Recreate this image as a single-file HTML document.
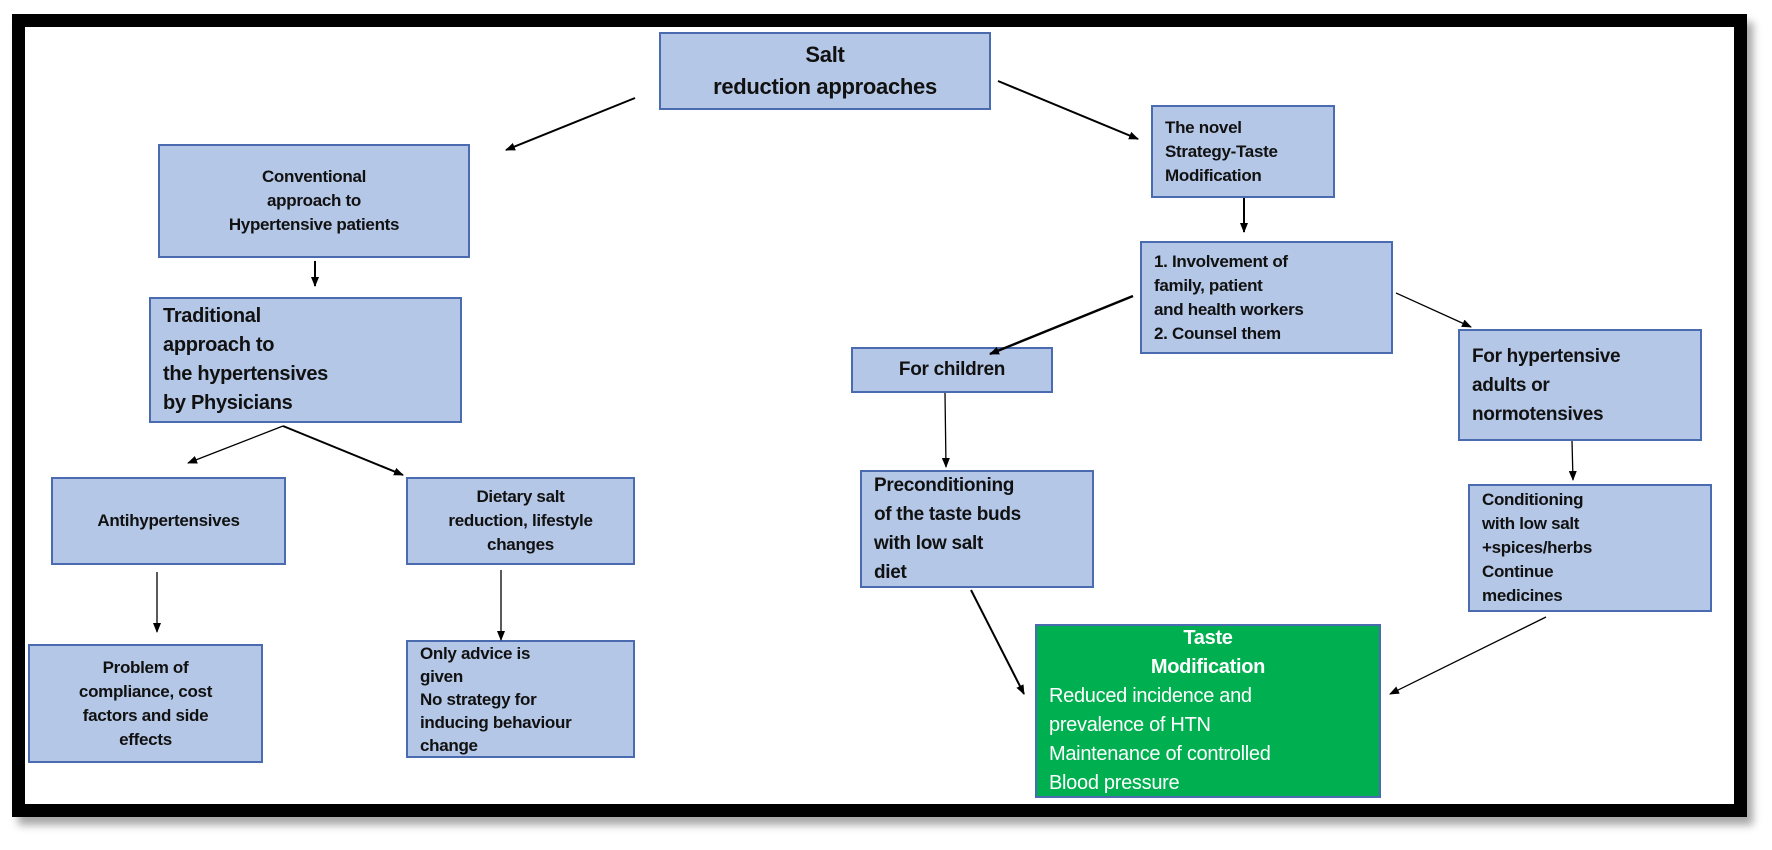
<!DOCTYPE html>
<html><head><meta charset="utf-8"><style>
body{margin:0;width:1772px;height:850px;background:#fff;position:relative;overflow:hidden;font-family:"Liberation Sans",sans-serif;}
.frame{position:absolute;left:12px;top:14px;width:1709px;height:777px;border:13px solid #000;box-shadow:6px 8px 8px rgba(0,0,0,0.35);}
.b{position:absolute;background:#b4c7e7;border:2px solid #4a6bb0;box-sizing:border-box;font-weight:bold;font-size:17px;line-height:24px;color:#111;display:flex;flex-direction:column;justify-content:center;padding:0 12px;letter-spacing:-0.3px;}
.c{text-align:center;align-items:center;}
svg{position:absolute;left:0;top:0;}
</style></head><body>
<div class="frame"></div>
<div class="b c" style="left:659px;top:32px;width:332px;height:78px;font-size:22px;line-height:32px;">Salt<br>reduction approaches</div>
<div class="b c" style="left:158px;top:144px;width:312px;height:114px;">Conventional<br>approach to<br>Hypertensive patients</div>
<div class="b" style="left:149px;top:297px;width:313px;height:126px;font-size:20px;line-height:29px;">Traditional<br>approach to<br>the hypertensives<br>by Physicians</div>
<div class="b c" style="left:51px;top:477px;width:235px;height:88px;">Antihypertensives</div>
<div class="b c" style="left:406px;top:477px;width:229px;height:88px;">Dietary salt<br>reduction, lifestyle<br>changes</div>
<div class="b c" style="left:28px;top:644px;width:235px;height:119px;">Problem of<br>compliance, cost<br>factors and side<br>effects</div>
<div class="b" style="left:406px;top:640px;width:229px;height:118px;line-height:23px;">Only advice is<br>given<br>No strategy for<br>inducing behaviour<br>change</div>
<div class="b" style="left:1151px;top:105px;width:184px;height:93px;">The novel<br>Strategy-Taste<br>Modification</div>
<div class="b" style="left:1140px;top:241px;width:253px;height:113px;">1. Involvement of<br>family, patient<br>and health workers<br>2. Counsel them</div>
<div class="b c" style="left:851px;top:347px;width:202px;height:46px;font-size:19px;">For children</div>
<div class="b" style="left:1458px;top:329px;width:244px;height:112px;font-size:19px;line-height:29px;">For hypertensive<br>adults or<br>normotensives</div>
<div class="b" style="left:860px;top:470px;width:234px;height:118px;font-size:19px;line-height:29px;">Preconditioning<br>of the taste buds<br>with low salt<br>diet</div>
<div class="b" style="left:1468px;top:484px;width:244px;height:128px;">Conditioning<br>with low salt<br>+spices/herbs<br>Continue<br>medicines</div>
<div class="b" style="left:1035px;top:624px;width:346px;height:174px;background:#00b050;color:#fff;font-weight:normal;font-size:20px;line-height:29px;">
<div style="text-align:center;font-weight:bold">Taste<br>Modification</div>Reduced incidence and<br>prevalence of HTN<br>Maintenance of controlled<br>Blood pressure</div>
<svg width="1772" height="850">
<defs><marker id="a" markerWidth="10" markerHeight="8" refX="9" refY="4" orient="auto" markerUnits="userSpaceOnUse"><path d="M0,0 L10,4 L0,8 z" fill="#000"/></marker></defs>
<g stroke="#000" stroke-width="2" fill="none" marker-end="url(#a)">
<line x1="635" y1="98" x2="506" y2="150"/>
<line x1="998" y1="81" x2="1138" y2="139"/>
<line x1="315" y1="261" x2="315" y2="286"/>
<line x1="283" y1="426" x2="188" y2="463" stroke-width="1.3"/>
<line x1="283" y1="426" x2="403" y2="475"/>
<line x1="157" y1="572" x2="157" y2="632" stroke-width="1.3"/>
<line x1="501" y1="570" x2="501" y2="640" stroke-width="1.3"/>
<line x1="1244" y1="198" x2="1244" y2="232"/>
<line x1="1133" y1="296" x2="990" y2="354" stroke-width="2.5"/>
<line x1="1396" y1="293" x2="1471" y2="327" stroke-width="1.3"/>
<line x1="945" y1="393" x2="946" y2="467" stroke-width="1.3"/>
<line x1="1572" y1="441" x2="1573" y2="480" stroke-width="1.3"/>
<line x1="971" y1="590" x2="1024" y2="694"/>
<line x1="1546" y1="617" x2="1390" y2="694" stroke-width="1.3"/>
</g></svg>
</body></html>
